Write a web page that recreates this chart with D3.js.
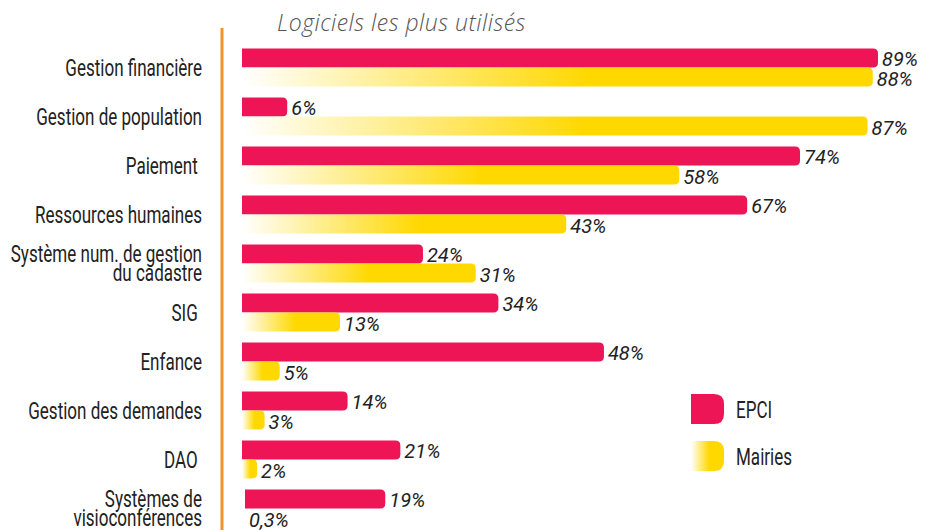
<!DOCTYPE html>
<html>
<head>
<meta charset="utf-8">
<script src="https://cdn.jsdelivr.net/npm/d3@7"></script>
<style>
  body { margin: 0; background: #fff; }
  .cat { font-family: Roboto, sans-serif; font-size: 24px; fill: #222; white-space: pre; }
  .val { font-family: Roboto, sans-serif; font-style: italic; font-size: 20px; fill: #222; }
  .title { font-family: "Open Sans", sans-serif; font-style: italic; font-weight: 300; font-size: 23px; fill: #555; letter-spacing: 0.5px; }
</style>
</head>
<body>
<div id="chart"></div>
<script>
var svgWidth = 937;
var svgHeight = 530;

// data
var categories = ["Gestion financière", "Gestion de population", "Paiement ", "Ressources humaines",
  "Système num. de gestion|du cadastre", "SIG ", "Enfance", "Gestion des demandes", "DAO ",
  "Systèmes de|visioconférences"];
var epci = [89, 6, 74, 67, 24, 34, 48, 14, 21, 19];
var mairies = [88, 87, 58, 43, 31, 13, 5, 3, 2, 0.3];
var epciLabels = ["89%", "6%", "74%", "67%", "24%", "34%", "48%", "14%", "21%", "19%"];
var mairiesLabels = ["88%", "87%", "58%", "43%", "31%", "13%", "5%", "3%", "2%", "0,3%"];
var seriesNames = ["EPCI", "Mairies"];

var pink = "#ee1556";
var yellow = "#ffd800";
var squeeze = 0.71; // condensed look for the labels

var svg = d3.select("#chart")
  .append("svg")
  .attr("width", svgWidth)
  .attr("height", svgHeight);

// gradient for the Mairies bars
var defs = svg.append("defs");
var grad = defs.append("linearGradient")
  .attr("id", "yellowGrad")
  .attr("x1", 0).attr("x2", 1).attr("y1", 0).attr("y2", 0);
grad.append("stop").attr("offset", "0%").attr("stop-color", "#ffffff");
grad.append("stop").attr("offset", "55%").attr("stop-color", yellow);
grad.append("stop").attr("offset", "100%").attr("stop-color", yellow);

// the original drawing is slightly compressed for the longest bars
var x = d3.scaleLinear()
  .domain([0, 74, 89])
  .range([242, 800, 878]);

var y = d3.scaleBand()
  .domain(categories)
  .range([43, 533])
  .padding(0);

var barH = 19;

// bar with rounded right side
function barPath(x0, x1, y0, h, rr) {
  var r = Math.min(rr || 5, (x1 - x0) / 2, h / 2);
  return "M" + x0 + "," + y0 +
    "H" + (x1 - r) +
    "Q" + x1 + "," + y0 + " " + x1 + "," + (y0 + r) +
    "V" + (y0 + h - r) +
    "Q" + x1 + "," + (y0 + h) + " " + (x1 - r) + "," + (y0 + h) +
    "H" + x0 + "Z";
}

// title
svg.append("text")
  .attr("class", "title")
  .attr("x", 277)
  .attr("y", 31)
  .text("Logiciels les plus utilisés");

// orange separator
svg.append("line")
  .attr("x1", 222).attr("x2", 222)
  .attr("y1", 28).attr("y2", svgHeight)
  .attr("stroke", "#f39325")
  .attr("stroke-width", 3);

var rows = svg.selectAll("g.row")
  .data(categories)
  .enter()
  .append("g")
  .attr("class", "row");

// EPCI bars
rows.append("path")
  .attr("d", (d, i) => barPath(i === 9 ? 245 : x(0), x(epci[i]), y(d) + y.bandwidth() / 2 - barH, barH))
  .attr("fill", pink);

// Mairies bars
rows.append("path")
  .attr("d", (d, i) => barPath(x(0), Math.max(x(mairies[i]), x(0) + 0.5), y(d) + y.bandwidth() / 2, barH))
  .attr("fill", "url(#yellowGrad)")
  .attr("opacity", (d, i) => mairies[i] < 1 ? 0 : 1);

// value labels
rows.append("text")
  .attr("class", "val")
  .attr("x", (d, i) => x(epci[i]) + 4)
  .attr("y", d => y(d) + y.bandwidth() / 2 - 2)
  .text((d, i) => epciLabels[i]);

rows.append("text")
  .attr("class", "val")
  .attr("x", (d, i) => mairies[i] < 1 ? 249 : x(mairies[i]) + 4)
  .attr("y", d => y(d) + y.bandwidth() / 2 + 18)
  .text((d, i) => mairiesLabels[i]);

// category labels
rows.each(function(d) {
  var lines = d.split("|");
  var cy = y(d) + y.bandwidth() / 2;
  var t = d3.select(this).append("text")
    .attr("class", "cat")
    .attr("text-anchor", "end")
    .attr("transform", `translate(202, ${cy}) scale(${squeeze}, 1)`);
  if (lines.length === 1) {
    t.append("tspan").attr("x", 0).attr("y", 8).text(lines[0]);
  } else {
    t.append("tspan").attr("x", 0).attr("y", -2).text(lines[0]);
    t.append("tspan").attr("x", 0).attr("y", 17).text(lines[1]);
  }
});

// legend
var legend = svg.append("g").attr("transform", "translate(691, 394)");
seriesNames.forEach(function(name, i) {
  legend.append("path")
    .attr("d", barPath(0, 33, i * 47, 30, 10))
    .attr("fill", i === 0 ? pink : "url(#yellowGrad)");
  legend.append("text")
    .attr("class", "cat")
    .attr("transform", `translate(45, ${i * 47 + 24}) scale(${squeeze}, 1)`)
    .text(name);
});
</script>
</body>
</html>
